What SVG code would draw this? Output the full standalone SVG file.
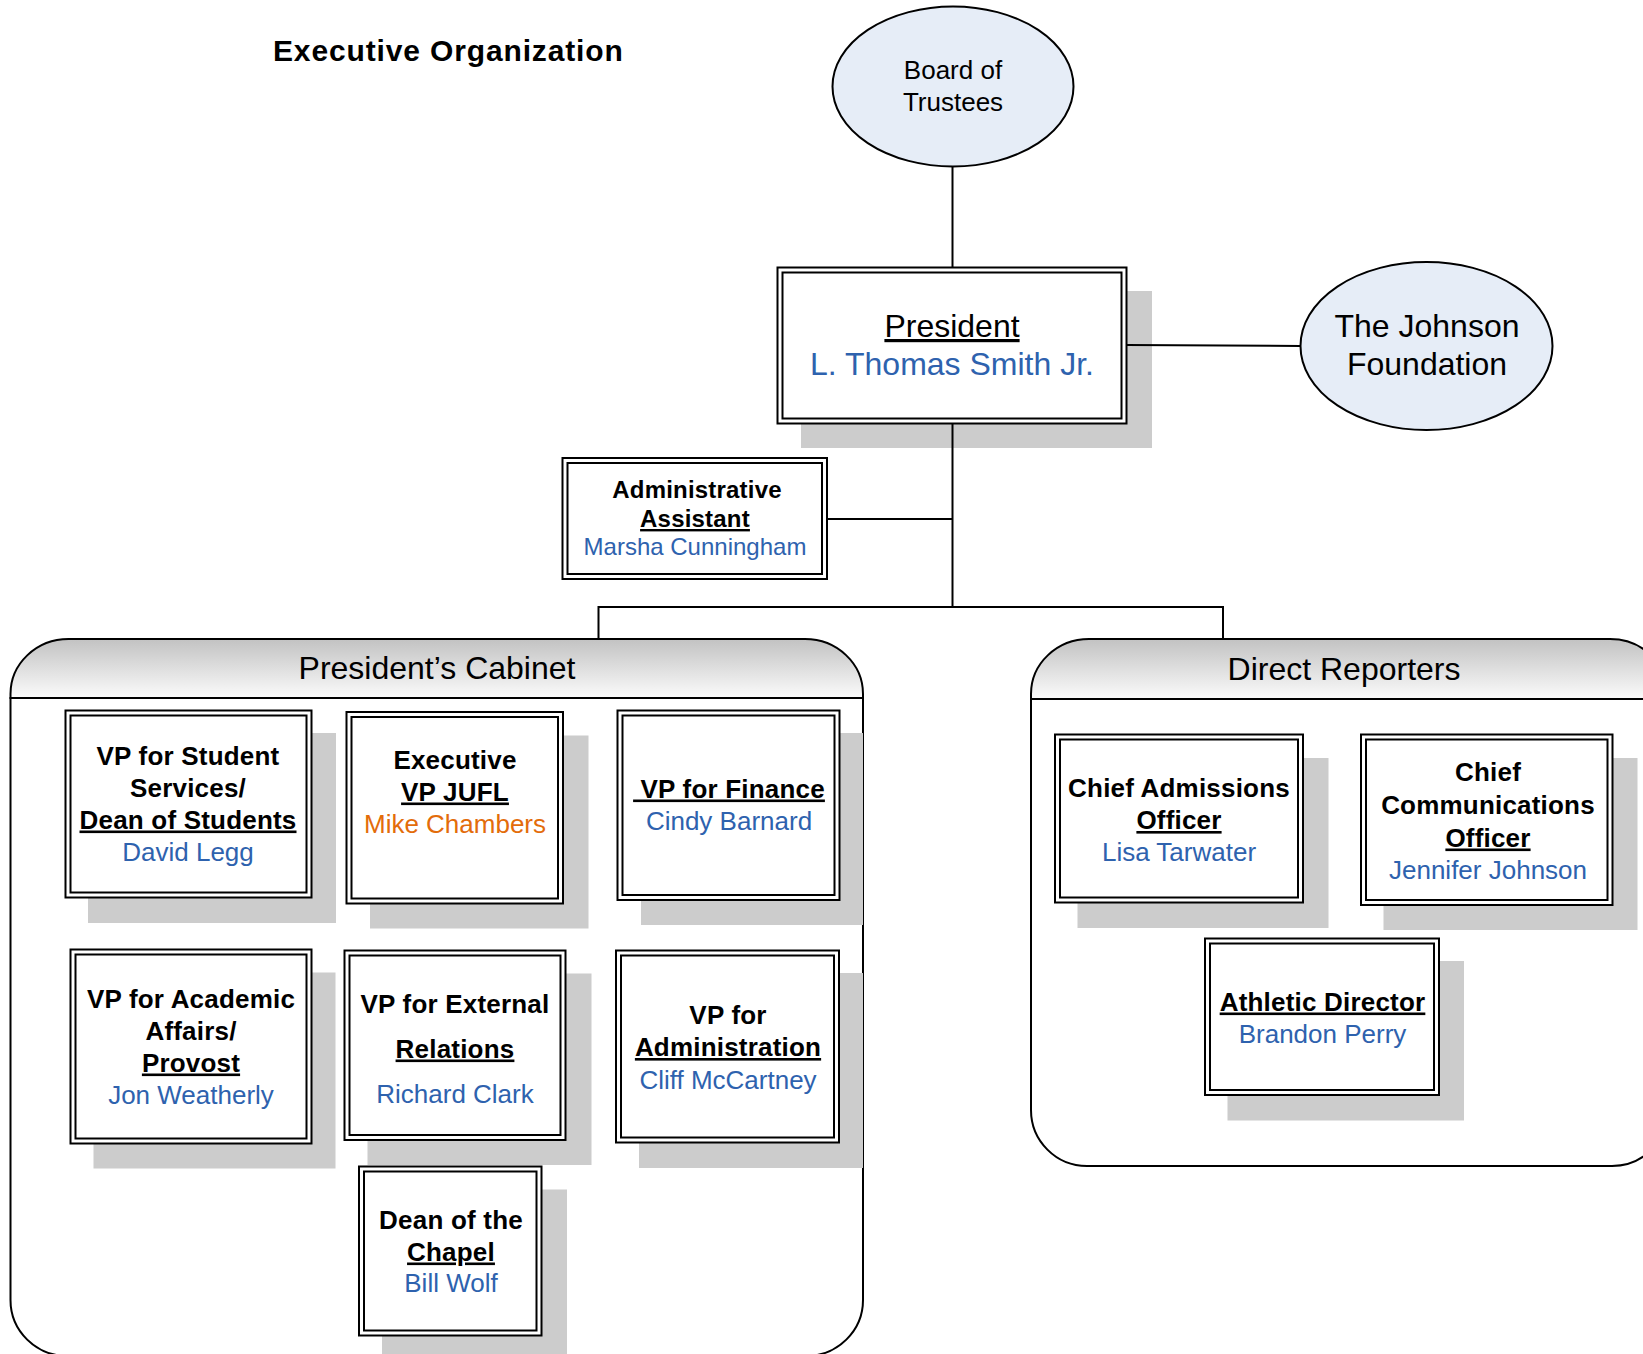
<svg xmlns="http://www.w3.org/2000/svg" width="1643" height="1354" viewBox="0 0 1643 1354">
<style>
text{font-family:"Liberation Sans",Arial,sans-serif;text-anchor:middle;fill:#000}
.b{font-weight:bold;letter-spacing:0.2px}
.u{text-decoration:underline}
.bl{fill:#2E62AE}
.or{fill:#E36C0A}
.s26{font-size:26px}
.s24{font-size:24px}
.s32{font-size:32px}
.outer{fill:#fff;stroke:#000;stroke-width:2}
.inner{fill:none;stroke:#000;stroke-width:2}
.shadow{fill:#cccccc}
.oval{fill:#E6EDF7;stroke:#000;stroke-width:2}
.cont{fill:#fff;stroke:#000;stroke-width:2}
.hdr{fill:url(#hg);stroke:#000;stroke-width:2}
.conn{fill:none;stroke:#000;stroke-width:2}
</style>
<defs>
<linearGradient id="hg" x1="0" y1="0" x2="0" y2="1">
<stop offset="0" stop-color="#c2c2c2"/>
<stop offset="1" stop-color="#fbfbfb"/>
</linearGradient>
</defs>
<rect width="1643" height="1354" fill="#fff"/>

<text id="title" x="448" y="60.5" class="b" font-size="30" textLength="350" lengthAdjust="spacing">Executive Organization</text>

<g id="cabinet">
<path class="cont" d="M10.5 698 V1300 A57 56 0 0 0 67.5 1356 H806 A57 56 0 0 0 863 1300 V698 Z"/>
<path class="hdr" d="M10.5 698 V694 A58 55 0 0 1 68.5 639 H805 A58 55 0 0 1 863 694 V698 Z"/>
<text x="437" y="679" class="s32">President’s Cabinet</text>
</g>

<g id="direct">
<path class="cont" d="M1031 699 V1110 A56 56 0 0 0 1087 1166 H1612 A56 56 0 0 0 1668 1110 V699 Z"/>
<path class="hdr" d="M1031 699 V694 A58 55 0 0 1 1089 639 H1610 A58 55 0 0 1 1668 694 V699 Z"/>
<text x="1344" y="679.5" class="s32">Direct Reporters</text>
</g>

<g id="board">
<ellipse class="oval" cx="953" cy="86.5" rx="120.5" ry="80"/>
<text x="953" y="78.5" font-size="26">Board of</text>
<text x="953" y="110.5" font-size="26">Trustees</text>
</g>

<g id="president">
<rect class="shadow" x="801" y="291" width="351" height="157"/>
<rect class="outer" x="777.5" y="267.5" width="349" height="156"/>
<rect class="inner" x="782.5" y="272.5" width="339" height="146"/>
<text x="952" y="337" class="s32 u">President</text>
<text x="952" y="375" class="s32 bl">L. Thomas Smith Jr.</text>
</g>

<g id="johnson">
<ellipse class="oval" cx="1426.5" cy="346" rx="126" ry="84"/>
<text x="1427" y="337" class="s32">The Johnson</text>
<text x="1427" y="375" class="s32">Foundation</text>
</g>

<g id="admin">
<rect class="outer" x="562.5" y="458" width="264.5" height="121"/>
<rect class="inner" x="567.5" y="463" width="254.5" height="111"/>
<text x="697" y="497.5" class="s24 b">Administrative</text>
<text x="695" y="527" class="s24 b u">Assistant</text>
<text x="695" y="555" class="s24 bl">Marsha Cunningham</text>
</g>

<g id="vp-student">
<rect class="shadow" x="88" y="733" width="248" height="190"/>
<rect class="outer" x="65.5" y="710.5" width="246" height="187"/>
<rect class="inner" x="70.5" y="715.5" width="236" height="177"/>
<text x="188" y="765" class="s26 b">VP for Student</text>
<text x="188" y="797" class="s26 b">Services/</text>
<text x="188" y="828.5" class="s26 b u">Dean of Students</text>
<text x="188" y="861" class="s26 bl">David Legg</text>
</g>

<g id="exec-vp">
<rect class="shadow" x="370" y="735.5" width="218.5" height="193"/>
<rect class="outer" x="346.5" y="712" width="216.5" height="191.5"/>
<rect class="inner" x="351.5" y="717" width="206.5" height="181.5"/>
<text x="455" y="768.5" class="s26 b">Executive</text>
<text x="455" y="800.5" class="s26 b u">VP JUFL</text>
<text x="455" y="832.5" class="s26 or">Mike Chambers</text>
</g>

<g id="vp-finance">
<rect class="shadow" x="641" y="733" width="222" height="192"/>
<rect class="outer" x="617.5" y="710.5" width="222" height="189.5"/>
<rect class="inner" x="622.5" y="715.5" width="212" height="179.5"/>
<text x="729" y="797.5" class="s26 b u" xml:space="preserve"> VP for Finance</text>
<text x="729" y="830" class="s26 bl">Cindy Barnard</text>
</g>

<g id="vp-academic">
<rect class="shadow" x="93.5" y="972.5" width="242" height="196"/>
<rect class="outer" x="70.5" y="949.5" width="241" height="194"/>
<rect class="inner" x="75.5" y="954.5" width="231" height="184"/>
<text x="191" y="1007.5" class="s26 b">VP for Academic</text>
<text x="191" y="1039.5" class="s26 b">Affairs/</text>
<text x="191" y="1071.5" class="s26 b u">Provost</text>
<text x="191" y="1103.5" class="s26 bl">Jon Weatherly</text>
</g>

<g id="vp-external">
<rect class="shadow" x="367.5" y="973.5" width="224" height="191.5"/>
<rect class="outer" x="344.5" y="950.5" width="221" height="189.5"/>
<rect class="inner" x="349.5" y="955.5" width="211" height="179.5"/>
<text x="455" y="1012.5" class="s26 b">VP for External</text>
<text x="455" y="1057.5" class="s26 b u">Relations</text>
<text x="455" y="1102.5" class="s26 bl">Richard Clark</text>
</g>

<g id="vp-admin">
<rect class="shadow" x="639" y="973" width="224" height="195"/>
<rect class="outer" x="616" y="950.5" width="223" height="192"/>
<rect class="inner" x="621" y="955.5" width="213" height="182"/>
<text x="728" y="1024" class="s26 b">VP for</text>
<text x="728" y="1056" class="s26 b u">Administration</text>
<text x="728" y="1088.5" class="s26 bl">Cliff McCartney</text>
</g>

<g id="dean-chapel">
<rect class="shadow" x="382" y="1189.5" width="185" height="175"/>
<rect class="outer" x="359" y="1166.5" width="182.5" height="169"/>
<rect class="inner" x="364" y="1171.5" width="172.5" height="159"/>
<text x="451" y="1228.5" class="s26 b">Dean of the</text>
<text x="451" y="1260.5" class="s26 b u">Chapel</text>
<text x="451" y="1291.5" class="s26 bl">Bill Wolf</text>
</g>

<g id="chief-admissions">
<rect class="shadow" x="1077.5" y="758" width="251" height="170"/>
<rect class="outer" x="1055" y="734.5" width="248" height="168"/>
<rect class="inner" x="1060" y="739.5" width="238" height="158"/>
<text x="1179" y="796.5" class="s26 b">Chief Admissions</text>
<text x="1179" y="829" class="s26 b u">Officer</text>
<text x="1179" y="861" class="s26 bl">Lisa Tarwater</text>
</g>

<g id="chief-comms">
<rect class="shadow" x="1383.5" y="758" width="254" height="172"/>
<rect class="outer" x="1361" y="734.5" width="251.5" height="170.5"/>
<rect class="inner" x="1366" y="739.5" width="241.5" height="160.5"/>
<text x="1488" y="781" class="s26 b">Chief</text>
<text x="1488" y="813.5" class="s26 b">Communications</text>
<text x="1488" y="846.5" class="s26 b u">Officer</text>
<text x="1488" y="878.5" class="s26 bl">Jennifer Johnson</text>
</g>

<g id="athletic">
<rect class="shadow" x="1227.5" y="961" width="236.5" height="159.5"/>
<rect class="outer" x="1205" y="938.5" width="234" height="156.5"/>
<rect class="inner" x="1210" y="943.5" width="224" height="146.5"/>
<text x="1322.5" y="1010.5" class="s26 b u">Athletic Director</text>
<text x="1322.5" y="1042.5" class="s26 bl">Brandon Perry</text>
</g>

<g id="connectors">
<path class="conn" d="M952.5 166.5 V267.5"/>
<path class="conn" d="M1126.5 345 L1300.5 346"/>
<path class="conn" d="M952.5 423.5 V607"/>
<path class="conn" d="M827 519 H952.5"/>
<path class="conn" d="M598.5 639 V607 H1223 V639"/>
</g>
</svg>
